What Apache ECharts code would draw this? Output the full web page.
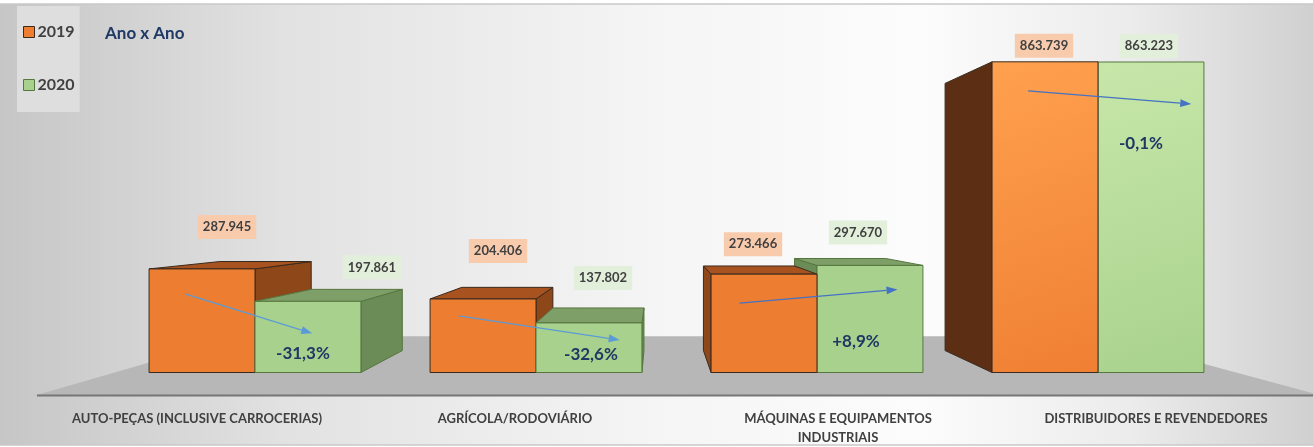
<!DOCTYPE html>
<html>
<head>
<meta charset="utf-8">
<script src="https://cdn.jsdelivr.net/npm/echarts@6/dist/echarts.min.js"></script>
<style>
html,body{margin:0;padding:0;background:#fff;}
#chart{width:1313px;height:447px;}
</style>
</head>
<body>
<div id="chart"></div>
<script>
// ---- data ----
const categories = ['AUTO-PEÇAS (INCLUSIVE CARROCERIAS)', 'AGRÍCOLA/RODOVIÁRIO', 'MÁQUINAS E EQUIPAMENTOS\nINDUSTRIAIS', 'DISTRIBUIDORES E REVENDEDORES'];
const seriesNames = ['2019', '2020'];
const values2019 = [287945, 204406, 273466, 863739];
const values2020 = [197861, 137802, 297670, 863223];
const chartTitle = 'Ano x Ano';

// ---- layout / style (not data) ----
const FONT = "Lato, 'Open Sans', sans-serif";
const BAR_RATIO = 0.377;
const DEPTH = 0.14;
const VP_RATIO = [0.5, 0.483];
const labelShift = [-58, -21, 21, 58];
const highlight = [false, false, false, true];
const valueLabelOffset = [
  [[25, -42], [15, -48], [-11, -30], [-1, -16]],
  [[64, -34], [14, -45], [-12, -33], [-2, -16]]
];
const pctOffset = [[-5, 52], [2, 32], [-14, 76], [-10, 82]];
const arrowStart = [[0.34, 25], [0.27, 17], [0.27, 29], [0.34, 29]];
const arrowEnd = [[0.54, 32], [0.79, 17], [0.76, 24], [0.88, 42]];
const arrowColor = ['#5b9bd5', '#5b9bd5', '#4472c4', '#4472c4'];

const palettes = [
  { front: '#ed7d31', frontHi: ['#ffa14f', '#ef7f33'], top: '#a8531f', side: '#8e4719', sideHi: '#5c2f15', stroke: '#3a2a1e', labelBg: '#f8cbad' },
  { front: '#a9d18e', frontHi: ['#c7e7a9', '#a9d28e'], top: '#7f9f69', side: '#6b8b57', sideHi: '#6b8b57', stroke: '#56773f', labelBg: '#e2efda' }
];

function fmt(v) { return Math.round(v).toString().replace(/\B(?=(\d{3})+(?!\d))/g, '.'); }
function pct(a, b) {
  const p = (b / a - 1) * 100;
  const s = p.toFixed(1).replace('.', ',');
  return (p > 0 ? '+' : '') + s + '%';
}

function geom(api, idx, s, v) {
  const top = api.coord([idx, v]);
  const base = api.coord([idx, 0]);
  const band = api.size([1, 0])[0];
  const w = band * BAR_RATIO;
  const x0 = s === 0 ? top[0] - w : top[0];
  return { x0: x0, x1: x0 + w, yT: top[1], yB: base[1], w: w };
}

function makeBoxRenderer(s) {
  return function (params, api) {
    const idx = api.value(0);
    const v = api.value(1);
    const g = geom(api, idx, s, v);
    const W = api.getWidth(), H = api.getHeight();
    const vp = [W * VP_RATIO[0], H * VP_RATIO[1]];
    const pr = p => [p[0] + DEPTH * (vp[0] - p[0]), p[1] + DEPTH * (vp[1] - p[1])];
    const pal = palettes[s];
    const hi = highlight[idx];
    const z = 100 - Math.abs((g.x0 + g.x1) / 2 - vp[0]) / 10;
    const children = [];
    const sideColor = hi ? pal.sideHi : pal.side;
    const strokeStyle = { stroke: pal.stroke, lineWidth: 1 };
    if (g.x1 < vp[0]) {
      children.push({ type: 'polygon', z2: z, shape: { points: [[g.x1, g.yT], [g.x1, g.yB], pr([g.x1, g.yB]), pr([g.x1, g.yT])] }, style: Object.assign({ fill: sideColor }, strokeStyle) });
    }
    if (g.x0 > vp[0]) {
      children.push({ type: 'polygon', z2: z, shape: { points: [[g.x0, g.yT], [g.x0, g.yB], pr([g.x0, g.yB]), pr([g.x0, g.yT])] }, style: Object.assign({ fill: sideColor }, strokeStyle) });
    }
    if (g.yT > vp[1]) {
      children.push({ type: 'polygon', z2: z + 0.1, shape: { points: [[g.x0, g.yT], [g.x1, g.yT], pr([g.x1, g.yT]), pr([g.x0, g.yT])] }, style: Object.assign({ fill: pal.top }, strokeStyle) });
    }
    const frontFill = hi ? new echarts.graphic.LinearGradient(0, 0, 1, 1, [{ offset: 0, color: pal.frontHi[0] }, { offset: 1, color: pal.frontHi[1] }]) : pal.front;
    children.push({ type: 'rect', z2: z + 0.2, shape: { x: g.x0, y: g.yT, width: g.w, height: g.yB - g.yT }, style: Object.assign({ fill: frontFill }, strokeStyle) });
    const off = valueLabelOffset[s][idx];
    children.push({
      type: 'text', z2: 500,
      style: {
        text: fmt(v), x: (g.x0 + g.x1) / 2 + off[0], y: g.yT + off[1],
        align: 'center', verticalAlign: 'middle',
        fill: '#404040', font: 'bold 13px ' + FONT,
        backgroundColor: pal.labelBg, padding: [6, 5, 5, 5]
      }
    });
    return { type: 'group', children: children };
  };
}

function renderAnnot(params, api) {
  const idx = api.value(0);
  const a = api.value(1), b = api.value(2);
  const g1 = geom(api, idx, 0, a);
  const g2 = geom(api, idx, 1, b);
  const s = [g1.x0 + arrowStart[idx][0] * g1.w, g1.yT + arrowStart[idx][1]];
  const e = [g2.x0 + arrowEnd[idx][0] * g2.w, g2.yT + arrowEnd[idx][1]];
  const ang = Math.atan2(e[1] - s[1], e[0] - s[0]);
  const L = 11, HW = 4;
  const bx = e[0] - L * Math.cos(ang), by = e[1] - L * Math.sin(ang);
  const nx = -Math.sin(ang) * HW, ny = Math.cos(ang) * HW;
  const col = arrowColor[idx];
  const po = pctOffset[idx];
  return {
    type: 'group',
    children: [
      { type: 'line', z2: 600, shape: { x1: s[0], y1: s[1], x2: bx, y2: by }, style: { stroke: col, lineWidth: 1.3 } },
      { type: 'polygon', z2: 600, shape: { points: [[e[0], e[1]], [bx + nx, by + ny], [bx - nx, by - ny]] }, style: { fill: col } },
      { type: 'text', z2: 600, style: { text: pct(a, b), x: (g2.x0 + g2.x1) / 2 + po[0], y: g2.yT + po[1], align: 'center', verticalAlign: 'middle', fill: '#1f3864', font: 'bold 17px ' + FONT } }
    ]
  };
}

function renderFloor(params, api) {
  const base = api.coord([0, 0]);
  const W = api.getWidth(), H = api.getHeight();
  const vp = [W * VP_RATIO[0], H * VP_RATIO[1]];
  const yF = base[1] + 23;
  const k = 0.33;
  const fl = [35, yF], fr = [W + 8, yF];
  const bl = [fl[0] + k * (vp[0] - fl[0]), fl[1] + k * (vp[1] - fl[1])];
  const br = [fr[0] + k * (vp[0] - fr[0]), fr[1] + k * (vp[1] - fr[1])];
  return {
    type: 'group',
    children: [
      { type: 'polygon', shape: { points: [fl, fr, br, bl] }, style: { fill: '#b7b7b7' } },
      { type: 'line', shape: { x1: fl[0] + 2, y1: yF, x2: W, y2: yF }, style: { stroke: '#767676', lineWidth: 2 } }
    ]
  };
}

const chart = echarts.init(document.getElementById('chart'), null, { renderer: 'canvas' });

const axisData = categories.map((c, i) => {
  const sh = labelShift[i];
  return { value: c, textStyle: { padding: sh < 0 ? [0, -2 * sh, 0, 0] : [0, 0, 0, 2 * sh] } };
});

chart.setOption({
  animation: false,
  backgroundColor: '#ffffff',
  graphic: [
    {
      type: 'rect', z: -10, silent: true,
      shape: { x: 0, y: 4, width: 1313, height: 441 },
      style: {
        fill: new echarts.graphic.LinearGradient(0, 0, 1, 0, [
          { offset: 0, color: '#c6c6c6' },
          { offset: 0.22, color: '#e2e2e2' },
          { offset: 0.5, color: '#f5f5f5' },
          { offset: 0.7, color: '#fcfcfc' },
          { offset: 0.86, color: '#ececec' },
          { offset: 1, color: '#d0d0d0' }
        ]),
        stroke: null
      }
    },
    { type: 'line', z: -9, silent: true, shape: { x1: 0, y1: 4, x2: 1313, y2: 4 }, style: { stroke: '#c8c8c8', lineWidth: 1.5 } },
    { type: 'line', z: -9, silent: true, shape: { x1: 0, y1: 445, x2: 1313, y2: 445 }, style: { stroke: '#c8c8c8', lineWidth: 1.5 } }
  ],
  title: {
    text: chartTitle, left: 100, top: 20,
    textStyle: { color: '#1f3864', fontSize: 17, fontWeight: 'bold', fontFamily: FONT }
  },
  legend: {
    orient: 'vertical', left: 17, top: 6,
    backgroundColor: '#dedede',
    padding: [18, 5, 19, 6],
    itemGap: 37, itemWidth: 11, itemHeight: 11,
    icon: 'rect',
    textStyle: { color: '#404040', fontSize: 16, fontWeight: 'bold', fontFamily: FONT, padding: [0, 0, 0, -2] },
    data: [
      { name: '2019', itemStyle: { color: '#ed7d31', borderColor: '#3a2a1e', borderWidth: 1 } },
      { name: '2020', itemStyle: { color: '#a9d18e', borderColor: '#56773f', borderWidth: 1 } }
    ]
  },
  grid: { left: 114.5, right: 74.5, top: 12.8, bottom: 73 },
  xAxis: {
    type: 'category', data: axisData,
    axisLine: { show: false }, axisTick: { show: false },
    axisLabel: { interval: 0, margin: 36.5, color: '#404040', fontSize: 13, fontWeight: 'bold', fontFamily: FONT, lineHeight: 19 }
  },
  yAxis: { type: 'value', min: 0, max: 1000000, show: false, splitLine: { show: false } },
  series: [
    { type: 'custom', name: 'floor', z: 1, silent: true, renderItem: renderFloor, data: [[0, 0]], encode: { x: 0, y: 1 } },
    { type: 'custom', name: seriesNames[0], itemStyle: { color: '#ed7d31' }, renderItem: makeBoxRenderer(0), data: values2019.map((v, i) => [i, v]), encode: { x: 0, y: 1 } },
    { type: 'custom', name: seriesNames[1], itemStyle: { color: '#a9d18e' }, renderItem: makeBoxRenderer(1), data: values2020.map((v, i) => [i, v]), encode: { x: 0, y: 1 } },
    { type: 'custom', name: 'annot', z: 3, silent: true, renderItem: renderAnnot, data: values2019.map((v, i) => [i, v, values2020[i]]), encode: { x: 0, y: 1 } }
  ]
});
</script>
</body>
</html>
